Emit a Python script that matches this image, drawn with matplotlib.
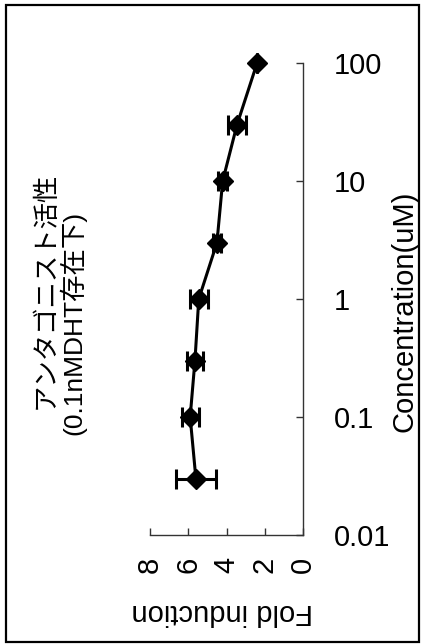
import matplotlib
matplotlib.use("Agg")
import matplotlib.pyplot as plt
from matplotlib.patches import Rectangle
from matplotlib.ticker import FixedLocator, FixedFormatter, NullLocator

# Data
concentration = [100, 30, 10, 3, 1, 0.3, 0.1, 0.03]          # uM
fold_induction = [2.4, 3.45, 4.2, 4.5, 5.45, 5.65, 5.9, 5.6]
fold_error = [0.0, 0.47, 0.22, 0.22, 0.46, 0.42, 0.44, 1.05]

fold_ticks = [8, 6, 4, 2, 0]
fold_ticklabels = ["8", "6", "4", "2", "0"]
conc_ticks = [0.01, 0.1, 1, 10, 100]
conc_ticklabels = ["0.01", "0.1", "1", "10", "100"]

title_line1 = "アンタゴニスト活性"
title_line2 = "(0.1nMDHT存在下)"
xlabel = "Fold induction"
ylabel = "Concentration(uM)"

W, H = 425, 644
fig = plt.figure(figsize=(W / 100, H / 100), dpi=100)
plt.rcParams['font.family'] = ['Liberation Sans', 'Noto Sans CJK JP', 'DejaVu Sans']

def fx(px):
    return px / W

def fy(py):
    return 1 - py / H

left, right, top, bottom = 150, 303, 63, 535
ax = fig.add_axes([fx(left), fy(bottom), (right - left) / W, (bottom - top) / H])

lines = ax.errorbar(fold_induction, concentration, xerr=fold_error, fmt='-D',
                    color='black', ecolor='black', lw=2.2, ms=10, mec='black', mfc='black',
                    elinewidth=2.2, capsize=7, capthick=2.2)
for art in lines.lines[0:1]:
    art.set_clip_on(False)
for art in lines.lines[1]:
    art.set_clip_on(False)
for art in lines.lines[2]:
    art.set_clip_on(False)

ax.set_yscale('log')
ax.set_xlim(8, 0)
ax.set_ylim(0.01, 100)

for s in ['left', 'top']:
    ax.spines[s].set_visible(False)
for s in ['right', 'bottom']:
    ax.spines[s].set_linewidth(1.0)
    ax.spines[s].set_color('#333333')

ax.xaxis.set_major_locator(FixedLocator(fold_ticks))
ax.xaxis.set_major_formatter(FixedFormatter(fold_ticklabels))
ax.yaxis.set_major_locator(FixedLocator(conc_ticks))
ax.yaxis.set_major_formatter(FixedFormatter(conc_ticklabels))
ax.yaxis.set_minor_locator(NullLocator())
ax.yaxis.tick_right()

ax.tick_params(axis='x', direction='in', length=5, width=1, color='#333333',
               labelsize=21, pad=16, labelrotation=90)
ax.tick_params(axis='y', direction='in', length=5, width=1, color='#333333',
               labelsize=21, pad=22, left=False, right=True)
for lab in ax.get_xticklabels():
    lab.set_va('top')
    lab.set_ha('center')

fig.text(fx(405), fy(311), ylabel, rotation=90, ha='center', va='center', fontsize=21)
fig.text(fx(222), fy(612), xlabel, rotation=180, ha='center', va='center', fontsize=21)
fig.text(fx(45), fy(290), title_line1, rotation=90, ha='center', va='center', fontsize=19)
fig.text(fx(73), fy(323), title_line2, rotation=90, ha='center', va='center', fontsize=19)

fig.patches.append(Rectangle((fx(6), fy(642)), fx(419) - fx(6), fy(5) - fy(642),
                             transform=fig.transFigure, fill=False,
                             edgecolor='black', lw=1.6))

fig.savefig("out.png", dpi=100)
